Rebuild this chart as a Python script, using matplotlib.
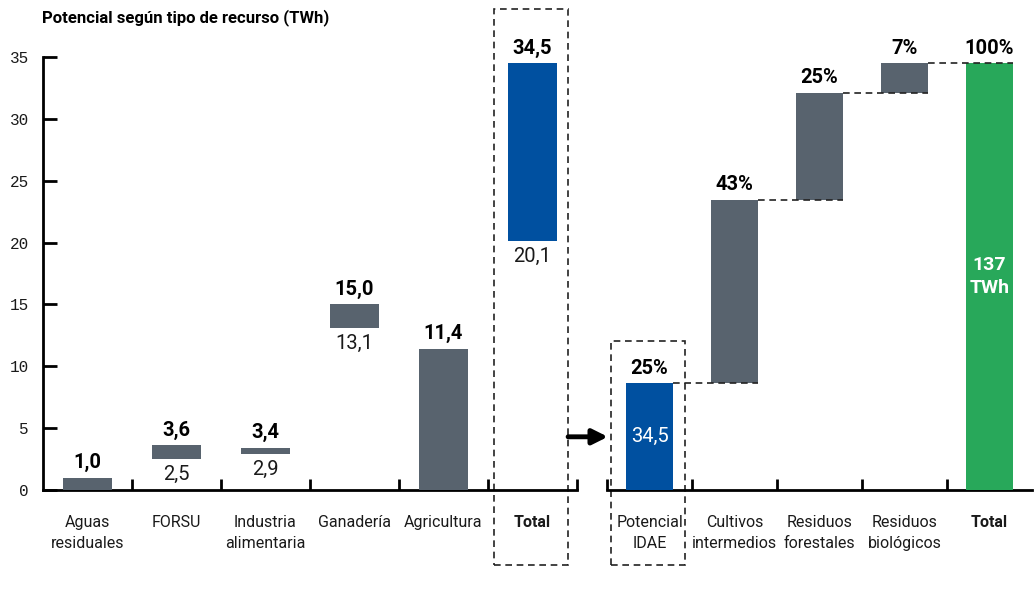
import matplotlib.pyplot as plt
from matplotlib.patches import Rectangle

# datos
recursos = ['Aguas\nresiduales', 'FORSU', 'Industria\nalimentaria', 'Ganadería', 'Agricultura', 'Total']
rec_min = [0.0, 2.5, 2.9, 13.1, 0.0, 20.1]
rec_max = [1.0, 3.6, 3.4, 15.0, 11.4, 34.5]

potencial = ['Potencial\nIDAE', 'Cultivos\nintermedios', 'Residuos\nforestales', 'Residuos\nbiológicos', 'Total']
pot_pct = [25, 43, 25, 7]
pot_total = 34.5
total_twh = 137

GRIS = '#58636e'
AZUL = '#0050a0'
VERDE = '#28a85a'
TXT = '#1a1a1a'
DASH = (0, (4, 2.8))

plt.rcParams['font.family'] = ['Roboto', 'DejaVu Sans']

def coma(v):
    return f'{v:.1f}'.replace('.', ',')

W, H = 1036, 601
fig = plt.figure(figsize=(W / 100, H / 100), dpi=100)
# posiciones en pixeles
axl = fig.add_axes([43 / W, 111 / H, 534 / W, 433 / H])
axr = fig.add_axes([607 / W, 111 / H, 425 / W, 433 / H], sharey=axl)

bw = 0.56
FS = 14.5
off = 0.45

# ---- panel izquierdo
for i, (lo, hi) in enumerate(zip(rec_min, rec_max)):
    col = AZUL if recursos[i] == 'Total' else GRIS
    axl.bar(i, hi - lo, bottom=lo, width=bw, color=col, zorder=3)
    axl.text(i, hi + off, coma(hi), ha='center', va='bottom', fontsize=FS,
             fontweight='bold', color='black')
    if lo > 0:
        axl.text(i, lo - off, coma(lo), ha='center', va='top', fontsize=FS, color=TXT)

axl.set_xlim(-0.5, len(recursos) - 0.5)
axl.set_ylim(0, 35)
axl.set_yticks(range(0, 36, 5))
axl.set_xticks([i + 0.5 for i in range(len(recursos))])
axl.set_xticklabels([])
axl.set_xticks(range(len(recursos)), minor=True)
axl.set_xticklabels(recursos, minor=True, fontsize=11.5, color=TXT, linespacing=1.5)
axl.tick_params(axis='x', which='minor', length=0, pad=18)
axl.tick_params(axis='x', which='major', direction='in', length=8, width=2)
axl.tick_params(axis='y', direction='in', length=10, width=2, pad=10,
                labelsize=11.5, labelcolor=TXT)
for lab in axl.get_yticklabels():
    lab.set_family('Liberation Mono')
for lab in axl.get_xticklabels(minor=True):
    if lab.get_text() == 'Total':
        lab.set_fontweight('bold')
for s in ['top', 'right']:
    axl.spines[s].set_visible(False)
for s in ['left', 'bottom']:
    axl.spines[s].set_linewidth(2)

# ---- panel derecho (cascada)
pasos = [p / 100 * pot_total for p in pot_pct]
base = 0.0
for i, v in enumerate(pasos):
    col = AZUL if i == 0 else GRIS
    axr.bar(i, v, bottom=base, width=bw, color=col, zorder=3)
    axr.text(i, base + v + off, f'{pot_pct[i]}%', ha='center', va='bottom', fontsize=FS,
             fontweight='bold', color='black')
    axr.plot([i + bw / 2, i + 1 + bw / 2], [base + v, base + v], ls=DASH,
             color='#222222', lw=1.2, zorder=4)
    base += v
n = len(potencial) - 1
axr.bar(n, pot_total, width=bw, color=VERDE, zorder=3)
axr.text(n, pot_total + off, f'{sum(pot_pct)}%', ha='center', va='bottom', fontsize=FS,
         fontweight='bold', color='black')
axr.text(n, pot_total / 2, f'{total_twh}\nTWh', ha='center', va='center', fontsize=14,
         fontweight='bold', color='white', linespacing=1.3, zorder=5)
axr.text(0, pasos[0] / 2, coma(pot_total), ha='center', va='center', fontsize=FS,
         color='white', zorder=5)

axr.set_xlim(-0.5, len(potencial) - 0.5)
axr.set_xticks([i - 0.5 for i in range(len(potencial))])
axr.set_xticklabels([])
axr.set_xticks(range(len(potencial)), minor=True)
axr.set_xticklabels(potencial, minor=True, fontsize=11.5, color=TXT, linespacing=1.5)
axr.tick_params(axis='x', which='minor', length=0, pad=18)
axr.tick_params(axis='x', which='major', direction='in', length=8, width=2)
axr.tick_params(axis='y', left=False, labelleft=False)
for lab in axr.get_xticklabels(minor=True):
    if lab.get_text() == 'Total':
        lab.set_fontweight('bold')
for s in ['top', 'right', 'left']:
    axr.spines[s].set_visible(False)
axr.spines['bottom'].set_linewidth(2)

# recuadros discontinuos
axl.add_patch(Rectangle((4.57, -6.06), 0.83, 44.9, fill=False, ls=DASH,
                        lw=1.2, ec='#222222', clip_on=False, zorder=1))
axr.add_patch(Rectangle((-0.45, -6.06), 0.87, 18.1, fill=False, ls=DASH,
                        lw=1.2, ec='#222222', clip_on=False, zorder=1))

# flecha
axr.annotate('', xy=(-0.49, 4.3), xycoords=axr.transData,
             xytext=(5.4, 4.3), textcoords=axl.transData,
             arrowprops=dict(arrowstyle='-|>,head_length=0.9,head_width=0.45',
                             lw=3.5, color='black', shrinkA=0, shrinkB=0))

fig.text(42 / W, 1 - 18 / H, 'Potencial según tipo de recurso (TWh)', fontsize=12,
         fontweight='bold', color='black', va='center')

fig.savefig('out.png', dpi=100)
